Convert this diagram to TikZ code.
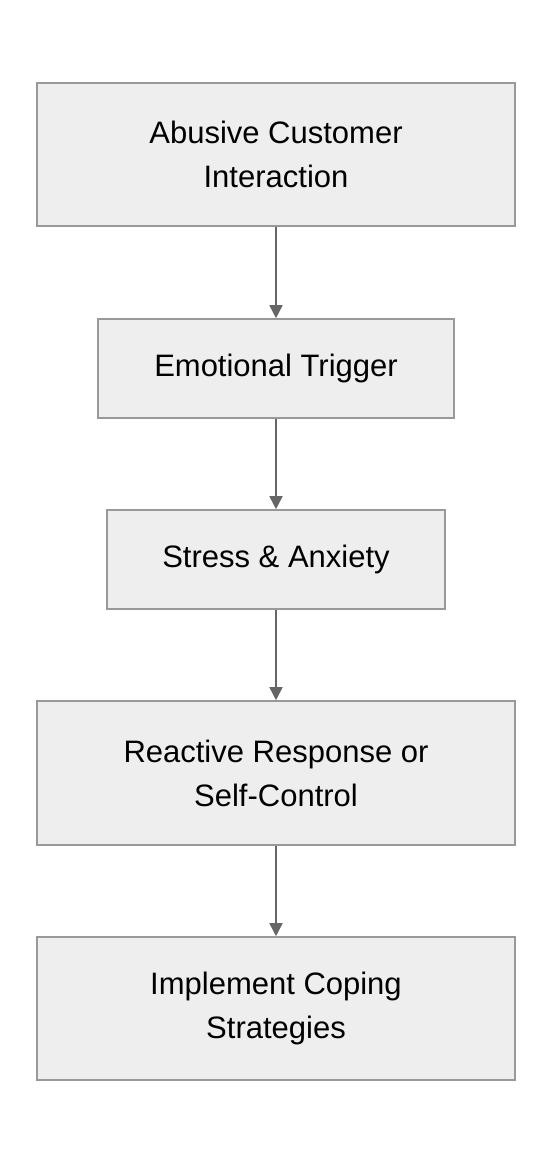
\documentclass[tikz,border=0pt]{standalone}
\usepackage{fontspec}
\setmainfont{Liberation Sans}
\usetikzlibrary{arrows.meta}
\definecolor{boxfill}{HTML}{EEEEEE}
\definecolor{boxline}{HTML}{999999}
\definecolor{arrowcol}{HTML}{666666}
\tikzset{
  flowbox/.style={draw=boxline, fill=boxfill, line width=1.6pt, inner sep=0pt,
    align=center, font=\fontsize{31}{44}\selectfont, text=black},
  flowarrow/.style={draw=arrowcol, line width=1.6pt, -{Triangle[length=13pt,width=13pt]}}
}
\begin{document}
\begin{tikzpicture}[x=1pt,y=-1pt]
\useasboundingbox (0,0) rectangle (552,1164);
\node[flowbox, minimum width=478pt, minimum height=143pt] (a) at (276,154.5) {Abusive Customer\\Interaction};
\node[flowbox, minimum width=356pt, minimum height=99pt] (b) at (276,368.5) {Emotional Trigger};
\node[flowbox, minimum width=338pt, minimum height=99pt] (c) at (276,559.5) {Stress \& Anxiety};
\node[flowbox, minimum width=478pt, minimum height=144pt] (d) at (276,773) {Reactive Response or\\Self-Control};
\node[flowbox, minimum width=478pt, minimum height=143pt] (e) at (276,1008.5) {Implement Coping\\Strategies};
\draw[flowarrow] (a) -- (b);
\draw[flowarrow] (b) -- (c);
\draw[flowarrow] (c) -- (d);
\draw[flowarrow] (d) -- (e);
\end{tikzpicture}
\end{document}
